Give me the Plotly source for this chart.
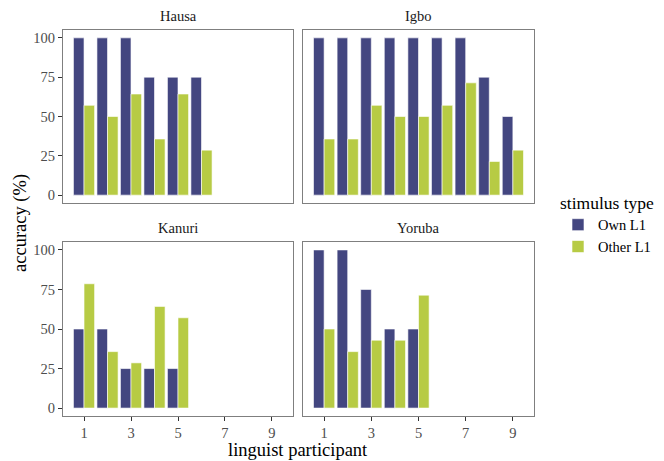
import plotly.graph_objects as go

participants_hausa = [1, 2, 3, 4, 5, 6]
own_hausa = [100, 100, 100, 75, 75, 75]
other_hausa = [57.1, 50, 64.3, 35.7, 64.3, 28.6]

participants_igbo = [1, 2, 3, 4, 5, 6, 7, 8, 9]
own_igbo = [100, 100, 100, 100, 100, 100, 100, 75, 50]
other_igbo = [35.7, 35.7, 57.1, 50, 50, 57.1, 71.4, 21.4, 28.6]

participants_kanuri = [1, 2, 3, 4, 5]
own_kanuri = [50, 50, 25, 25, 25]
other_kanuri = [78.6, 35.7, 28.6, 64.3, 57.1]

participants_yoruba = [1, 2, 3, 4, 5]
own_yoruba = [100, 100, 75, 50, 50]
other_yoruba = [50, 35.7, 42.9, 42.9, 71.4]

panels = [
    ("Hausa", participants_hausa, own_hausa, other_hausa),
    ("Igbo", participants_igbo, own_igbo, other_igbo),
    ("Kanuri", participants_kanuri, own_kanuri, other_kanuri),
    ("Yoruba", participants_yoruba, own_yoruba, other_yoruba),
]

x_ticks = [1, 3, 5, 7, 9]
y_ticks = [0, 25, 50, 75, 100]

OWN_COLOR = "#434680"
OTHER_COLOR = "#B7CB44"
FONT = "Liberation Serif"

# page body has an 8px margin; positions below are in window pixels
OFF = 8
W, H = 664 - OFF, 461 - OFF
P_LEFT, P_RIGHT, P_TOP, P_BOTTOM = 63, 534, 30, 416
ml = P_LEFT - OFF
mt = P_TOP - OFF
mr = W - (P_RIGHT - OFF)
mb = H - (P_BOTTOM - OFF)
pw = P_RIGHT - P_LEFT
ph = P_BOTTOM - P_TOP

def px_x(p):
    return (p - P_LEFT) / pw

def px_y(p):
    return (P_BOTTOM - p) / ph

x_domains = [[0, px_x(293)], [px_x(303), 1.0]]
y_domains = [[px_y(203), 1.0], [0, px_y(242)]]

fig = go.Figure()
layout = {}
annotations = []

for i, (name, parts, own, other) in enumerate(panels):
    r, c = divmod(i, 2)
    idx = "" if i == 0 else str(i + 1)
    xa, ya = "x" + idx, "y" + idx
    fig.add_trace(go.Bar(x=parts, y=own, name="Own L1", marker_color=OWN_COLOR,
                         marker_line=dict(color="white", width=0.6),
                         xaxis=xa, yaxis=ya, showlegend=(i == 0)))
    fig.add_trace(go.Bar(x=parts, y=other, name="Other L1", marker_color=OTHER_COLOR,
                         marker_line=dict(color="white", width=0.6),
                         xaxis=xa, yaxis=ya, showlegend=(i == 0)))
    layout["xaxis" + idx] = dict(
        domain=x_domains[c], range=[0.105, 9.895], anchor=ya,
        tickvals=x_ticks, showticklabels=(r == 1), ticks="outside" if r == 1 else "",
        ticklen=4, tickcolor="#333333", tickfont=dict(size=14.5, color="#4d4d4d", family=FONT),
        showline=True, mirror=True, linecolor="#7f7f7f", linewidth=1,
        showgrid=False, zeroline=False, automargin=False,
    )
    layout["yaxis" + idx] = dict(
        domain=y_domains[r], range=[-5, 105], anchor=xa,
        tickvals=y_ticks, showticklabels=(c == 0), ticks="outside" if c == 0 else "",
        ticklen=4, tickcolor="#333333", tickfont=dict(size=14.5, color="#4d4d4d", family=FONT),
        showline=True, mirror=True, linecolor="#7f7f7f", linewidth=1,
        showgrid=False, zeroline=False, automargin=False,
    )
    annotations.append(dict(
        text=name, xref="paper", yref="paper",
        x=sum(x_domains[c]) / 2, y=px_y(16 if r == 0 else 228),
        xanchor="center", yanchor="middle", showarrow=False,
        font=dict(size=14.5, color="#1a1a1a", family=FONT),
    ))

annotations.append(dict(
    text="accuracy (%)", xref="paper", yref="paper", x=px_x(20), y=px_y(223),
    xanchor="center", yanchor="middle", textangle=-90, showarrow=False,
    font=dict(size=18.5, color="black", family=FONT),
))
annotations.append(dict(
    text="linguist participant", xref="paper", yref="paper", x=px_x(298), y=px_y(450),
    xanchor="center", yanchor="middle", showarrow=False,
    font=dict(size=18.5, color="black", family=FONT),
))

fig.update_layout(
    **layout,
    annotations=annotations,
    barmode="group", bargap=0.1, bargroupgap=0,
    width=W, height=H,
    margin=dict(l=ml, r=mr, t=mt, b=mb, autoexpand=False),
    paper_bgcolor="white", plot_bgcolor="white",
    font=dict(family=FONT, color="black"),
    legend=dict(
        title=dict(text="stimulus type", font=dict(size=17.5, family=FONT)),
        font=dict(size=14.5, family=FONT),
        x=px_x(558), y=px_y(186), xanchor="left", yanchor="top",
        tracegroupgap=0, bgcolor="rgba(0,0,0,0)",
    ),
)

fig.write_html("out.html")
